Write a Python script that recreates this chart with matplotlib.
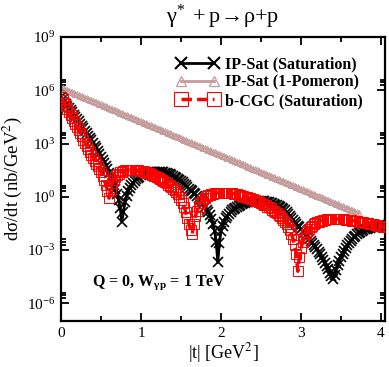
import numpy as np
import matplotlib
matplotlib.use('Agg')
import matplotlib.pyplot as plt
from matplotlib.ticker import FixedLocator, FixedFormatter, NullFormatter
from matplotlib.lines import Line2D

plt.rcParams['font.family'] = ['Liberation Serif', 'DejaVu Serif']
plt.rcParams['mathtext.fontset'] = 'stix'

# |t| sampling grids (GeV^2), step 0.02
t_sat = np.round(np.linspace(0.0, 4.04, 203), 2)
t_pom = np.round(np.linspace(0.0, 3.72, 187), 2)

# log10(dsigma/dt [nb/GeV^2])
ipsat_sat_log10 = [
    5.60, 5.48, 5.36, 5.24, 5.12, 5.00, 4.88, 4.76, 4.63, 4.51,
    4.38, 4.25, 4.12, 3.99, 3.86, 3.73, 3.59, 3.45, 3.31, 3.17,
    3.02, 2.87, 2.72, 2.57, 2.41, 2.25, 2.08, 1.91, 1.73, 1.54,
    1.35, 1.14, 0.92, 0.68, 0.42, 0.13, -0.20, -0.62, -1.40, -0.85,
    -0.30, 0.05, 0.30, 0.49, 0.65, 0.78, 0.90, 0.99, 1.07, 1.14,
    1.20, 1.25, 1.29, 1.32, 1.35, 1.37, 1.39, 1.40, 1.41, 1.41,
    1.41, 1.41, 1.40, 1.39, 1.37, 1.35, 1.32, 1.29, 1.26, 1.22,
    1.18, 1.13, 1.08, 1.02, 0.96, 0.89, 0.82, 0.74, 0.66, 0.56,
    0.46, 0.38, 0.30, 0.22, 0.13, 0.04, -0.06, -0.17, -0.29, -0.43,
    -0.60, -0.72, -0.86, -1.03, -1.25, -1.55, -1.95, -2.55, -3.70, -2.60,
    -1.95, -1.62, -1.40, -1.22, -1.08, -0.96, -0.85, -0.76, -0.68, -0.61,
    -0.55, -0.50, -0.45, -0.41, -0.37, -0.34, -0.31, -0.29, -0.27, -0.25,
    -0.24, -0.23, -0.23, -0.23, -0.23, -0.23, -0.24, -0.25, -0.27, -0.29,
    -0.31, -0.34, -0.37, -0.40, -0.44, -0.48, -0.53, -0.58, -0.64, -0.70,
    -0.77, -0.86, -0.96, -1.07, -1.18, -1.29, -1.40, -1.51, -1.62, -1.73,
    -1.84, -1.95, -2.06, -2.17, -2.28, -2.39, -2.50, -2.61, -2.72, -2.84,
    -2.96, -3.09, -3.23, -3.38, -3.54, -3.71, -3.89, -4.08, -4.28, -4.48,
    -4.65, -4.40, -4.10, -3.84, -3.60, -3.39, -3.20, -3.03, -2.87, -2.73,
    -2.60, -2.49, -2.38, -2.29, -2.20, -2.12, -2.05, -1.99, -1.93, -1.88,
    -1.84, -1.80, -1.77, -1.74, -1.71, -1.68, -1.66, -1.64, -1.62, -1.60,
    -1.59, -1.58, -1.57,
]
ipsat_pom_log10 = [
    6.15, 6.11, 6.07, 6.04, 6.00, 5.96, 5.92, 5.88, 5.85, 5.81,
    5.77, 5.73, 5.69, 5.66, 5.62, 5.58, 5.54, 5.50, 5.47, 5.43,
    5.39, 5.35, 5.31, 5.28, 5.24, 5.20, 5.16, 5.12, 5.09, 5.05,
    5.01, 4.97, 4.93, 4.90, 4.86, 4.82, 4.78, 4.74, 4.71, 4.67,
    4.63, 4.59, 4.55, 4.52, 4.48, 4.44, 4.40, 4.36, 4.33, 4.29,
    4.25, 4.21, 4.17, 4.14, 4.10, 4.06, 4.02, 3.98, 3.95, 3.91,
    3.87, 3.83, 3.79, 3.76, 3.72, 3.68, 3.64, 3.60, 3.57, 3.53,
    3.49, 3.45, 3.41, 3.38, 3.34, 3.30, 3.26, 3.22, 3.19, 3.15,
    3.11, 3.07, 3.03, 3.00, 2.96, 2.92, 2.88, 2.84, 2.81, 2.77,
    2.73, 2.69, 2.65, 2.62, 2.58, 2.54, 2.50, 2.46, 2.43, 2.39,
    2.35, 2.31, 2.27, 2.24, 2.20, 2.16, 2.12, 2.08, 2.05, 2.01,
    1.97, 1.93, 1.89, 1.86, 1.82, 1.78, 1.74, 1.70, 1.67, 1.63,
    1.59, 1.55, 1.51, 1.48, 1.44, 1.40, 1.36, 1.32, 1.29, 1.25,
    1.21, 1.17, 1.13, 1.10, 1.06, 1.02, 0.98, 0.94, 0.91, 0.87,
    0.83, 0.79, 0.75, 0.72, 0.68, 0.64, 0.60, 0.56, 0.53, 0.49,
    0.45, 0.41, 0.37, 0.34, 0.30, 0.26, 0.22, 0.18, 0.15, 0.11,
    0.07, 0.03, -0.01, -0.04, -0.08, -0.12, -0.16, -0.20, -0.23, -0.27,
    -0.31, -0.35, -0.39, -0.42, -0.46, -0.50, -0.54, -0.58, -0.61, -0.65,
    -0.69, -0.73, -0.77, -0.80, -0.84, -0.88, -0.92,
]
bcgc_sat_log10 = [
    5.60, 5.44, 5.27, 5.11, 4.94, 4.77, 4.60, 4.43, 4.26, 4.09,
    3.92, 3.75, 3.57, 3.40, 3.22, 3.05, 2.87, 2.70, 2.52, 2.35,
    2.18, 2.02, 1.86, 1.71, 1.55, 1.38, 1.18, 0.95, 0.68, 0.35,
    -0.08, 0.40, 0.75, 0.95, 1.10, 1.21, 1.30, 1.37, 1.42, 1.46,
    1.49, 1.51, 1.52, 1.53, 1.53, 1.53, 1.52, 1.51, 1.49, 1.47,
    1.45, 1.43, 1.40, 1.37, 1.34, 1.31, 1.27, 1.23, 1.19, 1.15,
    1.10, 1.05, 1.00, 0.95, 0.89, 0.83, 0.76, 0.69, 0.62, 0.54,
    0.45, 0.36, 0.25, 0.13, 0.00, -0.16, -0.35, -0.58, -0.88, -1.20,
    -1.55, -1.85, -2.10, -1.55, -1.10, -0.80, -0.55, -0.38, -0.25, -0.14,
    -0.05, 0.02, 0.08, 0.12, 0.16, 0.18, 0.20, 0.21, 0.22, 0.23,
    0.23, 0.23, 0.23, 0.23, 0.22, 0.21, 0.20, 0.19, 0.17, 0.15,
    0.13, 0.11, 0.08, 0.06, 0.03, 0.00, -0.03, -0.06, -0.09, -0.12,
    -0.15, -0.19, -0.22, -0.26, -0.30, -0.35, -0.39, -0.44, -0.49, -0.55,
    -0.60, -0.66, -0.72, -0.79, -0.86, -0.94, -1.02, -1.11, -1.20, -1.31,
    -1.42, -1.55, -1.70, -1.88, -2.10, -2.36, -2.70, -3.20, -4.20, -3.40,
    -2.90, -2.57, -2.30, -2.11, -1.95, -1.83, -1.72, -1.63, -1.56, -1.50,
    -1.45, -1.41, -1.37, -1.34, -1.32, -1.30, -1.28, -1.27, -1.26, -1.25,
    -1.25, -1.25, -1.25, -1.25, -1.26, -1.26, -1.27, -1.28, -1.29, -1.30,
    -1.31, -1.32, -1.34, -1.35, -1.37, -1.38, -1.40, -1.41, -1.43, -1.44,
    -1.46, -1.48, -1.50, -1.52, -1.54, -1.56, -1.58, -1.60, -1.62, -1.64,
    -1.66, -1.68, -1.70,
]

labels = ["IP-Sat (Saturation)", "IP-Sat (1-Pomeron)", "b-CGC (Saturation)"]
ytick_exp = [-6, -3, 0, 3, 6, 9]
xticks = [0, 1, 2, 3, 4]

black = '#000000'
pom_c = '#c49c9c'
red = '#ff0000'

fig = plt.figure(figsize=(3.89, 3.67), dpi=100)
ax = fig.add_axes([61/389, 1-321/367, (385-61)/389, (321-37)/367])

y_ip = 10.0 ** np.array(ipsat_sat_log10)
y_pom = 10.0 ** np.array(ipsat_pom_log10)
y_bc = 10.0 ** np.array(bcgc_sat_log10)

ax.plot(t_sat, y_ip, color=black, lw=2, marker='x', ms=6.5, mew=1.2, zorder=3)
ax.plot(t_pom, y_pom, color=pom_c, lw=1.5, marker='^', ms=5, mew=0.7,
        mfc='none', mec=pom_c, zorder=2)
ax.plot(t_sat, y_bc, color=red, lw=2.5, ls=(0, (3, 1.5)), marker='s', ms=7.5,
        mew=0.7, mfc='none', mec=red, zorder=4)

ax.set_yscale('log')
ax.set_xlim(0, 4.05)
ax.set_ylim(1e-7, 1e9)

ax.xaxis.set_major_locator(FixedLocator(xticks))
ax.xaxis.set_major_formatter(FixedFormatter([str(v) for v in xticks]))
ax.xaxis.set_minor_locator(FixedLocator([0.5, 1.5, 2.5, 3.5]))

ax.yaxis.set_major_locator(FixedLocator([10.0 ** e for e in ytick_exp]))
ax.yaxis.set_major_formatter(FixedFormatter([r'$\mathregular{10^{%d}}$' % e for e in ytick_exp]))
minors = [m * 10.0 ** e for e in ytick_exp for m in (2, 3, 4)] + [m * 1e-9 for m in (2, 3, 4)]
ax.yaxis.set_minor_locator(FixedLocator(minors))
ax.yaxis.set_minor_formatter(NullFormatter())

ax.tick_params(which='both', direction='in', top=True, right=True, width=1.3)
ax.tick_params(which='major', length=6, labelsize=11, pad=4)
ax.tick_params(which='minor', length=3.5)
for s in ax.spines.values():
    s.set_linewidth(1.6)

ax.set_xlabel(r'|t| [GeV$^2$]', fontsize=13, labelpad=1)
ax.set_ylabel(r'dσ/dt (nb/GeV$^2$)', fontsize=13.5, labelpad=2)
fig.text(0.572, 0.955, r'$\mathregular{γ^{*}\ + p\!\rightarrow\!ρ{+}p}$',
         ha='center', va='center', fontsize=16)

ax.text(0.096, 0.134, r'Q = 0, W$_{\mathregular{γp}}$ = 1 TeV', transform=ax.transAxes,
        fontsize=11.5, fontweight='bold', ha='left', va='center')

handles = [
    Line2D([], [], color=black, lw=2, marker='x', ms=8, mew=1.5),
    Line2D([], [], color=pom_c, lw=2, marker='^', ms=7, mew=0.9, mfc='none', mec=pom_c),
    Line2D([], [], color=red, lw=2.5, ls=(0, (3, 1.5)), marker='s', ms=10, mew=0.8, mfc='none', mec=red),
]
leg = ax.legend(handles, labels, loc='upper left', bbox_to_anchor=(0.335, 0.955),
                frameon=False, numpoints=2, handlelength=2.7, handletextpad=0.35,
                labelspacing=0.15, borderaxespad=0, prop={'weight': 'bold', 'size': 11.5})

fig.savefig('out.png', dpi=100)
